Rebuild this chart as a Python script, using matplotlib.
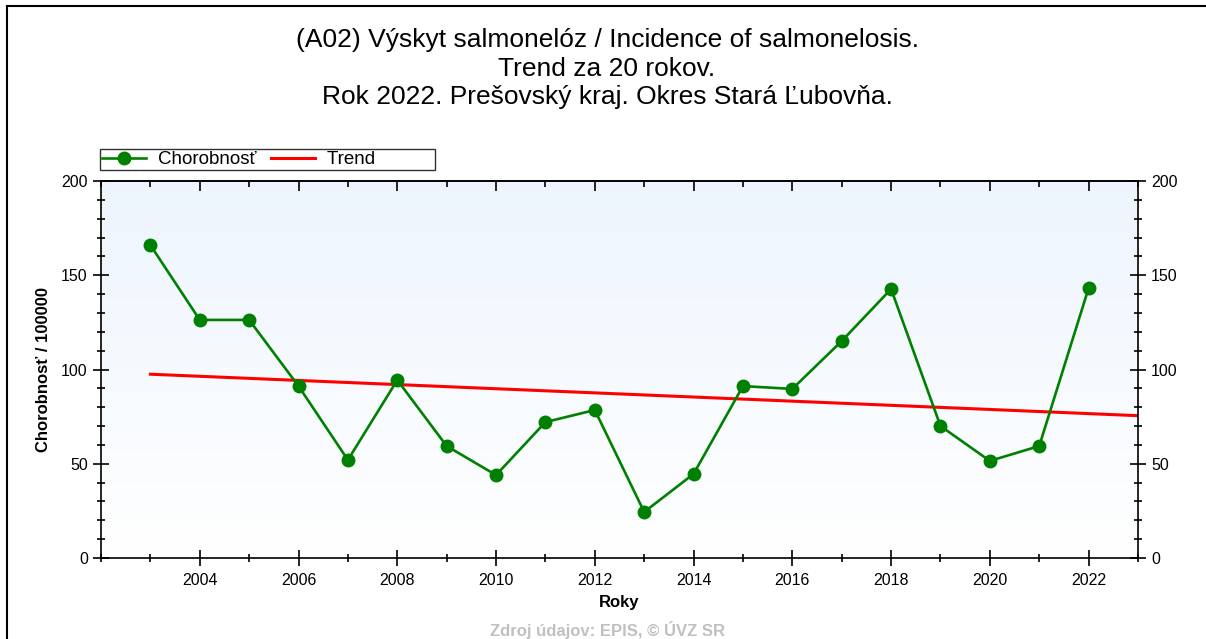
import matplotlib
matplotlib.use("Agg")
import matplotlib.pyplot as plt
import numpy as np
from matplotlib.ticker import MultipleLocator
from matplotlib.lines import Line2D

plt.rcParams['font.family'] = ['Liberation Sans', 'DejaVu Sans']

# data
years = [2003, 2004, 2005, 2006, 2007, 2008, 2009, 2010, 2011, 2012,
         2013, 2014, 2015, 2016, 2017, 2018, 2019, 2020, 2021, 2022]
incidence = [166.0, 126.3, 126.3, 91.2, 52.0, 94.4, 59.4, 44.0, 72.1, 78.5,
             24.4, 44.6, 91.2, 89.7, 115.1, 142.7, 70.0, 51.5, 59.4, 143.2]
trend_years = [2003, 2023]
trend_values = [97.5, 75.5]
xtick_years = list(range(2004, 2023, 2))

title = ("(A02) Výskyt salmonelóz / Incidence of salmonelosis.\n"
         "Trend za 20 rokov.\n"
         "Rok 2022. Prešovský kraj. Okres Stará Ľubovňa.")

fig = plt.figure(figsize=(12.06, 6.39), dpi=100)
ax = fig.add_axes([101 / 1206, 1 - 558 / 639, (1138 - 101) / 1206, (558 - 181) / 639])

# soft blue-to-white background
grad = np.linspace(0, 1, 256).reshape(-1, 1)
top_c = np.array([0.93, 0.96, 0.995])
bot_c = np.array([1.0, 1.0, 1.0])
img = top_c * (1 - grad[..., None]) + bot_c * grad[..., None]
ax.imshow(img, extent=[0, 1, 0, 1], transform=ax.transAxes, aspect='auto', zorder=0)

ax.plot(years, incidence, color='#008000', lw=1.9, marker='o', ms=9,
        label='Chorobnosť', zorder=3)
ax.plot(trend_years, trend_values, color='#ff0000', lw=2.2,
        label='Trend' + ' ' * 11, zorder=2)

ax.set_xlim(2002, 2023)
ax.set_ylim(0, 200)
ax.set_xticks(xtick_years)
ax.xaxis.set_minor_locator(MultipleLocator(1))
ax.yaxis.set_major_locator(MultipleLocator(50))
ax.yaxis.set_minor_locator(MultipleLocator(10))

ax.tick_params(axis='both', which='major', direction='inout', length=12, width=1.2,
               labelsize=11.5, right=True, labelright=True, top=False)
ax.tick_params(axis='y', which='minor', direction='inout', length=6, width=1.2,
               right=True)
ax.tick_params(axis='x', which='minor', direction='inout', length=6, width=1.2,
               top=False)
ax.tick_params(axis='x', which='major', pad=5)
for s in ax.spines.values():
    s.set_linewidth(1.2)

# top edge: short inward ticks only
sec = ax.secondary_xaxis('top')
sec.set_xticks(xtick_years)
sec.xaxis.set_minor_locator(MultipleLocator(1))
sec.tick_params(which='major', direction='in', length=7, width=1.2, labeltop=False)
sec.tick_params(which='minor', direction='in', length=4, width=1.2)
sec.spines['top'].set_linewidth(1.2)

ax.set_xlabel('Roky', fontsize=12, fontweight='bold', labelpad=5)
ax.set_ylabel('Chorobnosť / 100000', fontsize=12, fontweight='bold', labelpad=7)

fig.text(607 / 1206, 1 - 68.5 / 639, title, ha='center', va='center', fontsize=19,
         linespacing=1.25)
fig.text(608 / 1206, 1 - 630 / 639, 'Zdroj údajov: EPIS, © ÚVZ SR', ha='center',
         va='center', fontsize=12, fontweight='bold', color='#c0c0c0')

leg = ax.legend(loc='lower left', bbox_to_anchor=(-0.001, 1.029), ncol=2,
                frameon=True, fancybox=False, fontsize=13.5, borderpad=0.1,
                handlelength=2.35, handletextpad=0.65, columnspacing=0.75,
                borderaxespad=0)
leg.get_frame().set_edgecolor('black')
leg.get_frame().set_linewidth(1.0)

# outer frame (left and top edges visible)
fig.add_artist(Line2D([7 / 1206, 7 / 1206], [0, 1 - 6 / 639], color='black', lw=1.5))
fig.add_artist(Line2D([7 / 1206, 1], [1 - 6 / 639, 1 - 6 / 639], color='black', lw=1.5))

fig.savefig('out.png', dpi=100)
